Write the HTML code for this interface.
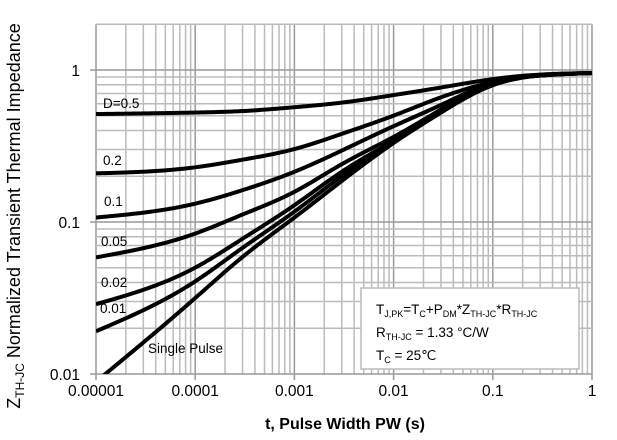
<!DOCTYPE html>
<html><head><meta charset="utf-8"><style>
body{margin:0;background:#fff;}
svg{display:block;font-family:"Liberation Sans",Arial,sans-serif;}
</style></head><body>
<svg id="chart" width="617" height="440" viewBox="0 0 617 440">
<g id="grid"></g>
<g id="curves"></g>
<g id="labels"></g>
<text transform="translate(20,216) rotate(-90)" text-anchor="middle" font-size="18">Z<tspan font-size="12" dy="4">TH-JC</tspan><tspan dy="-4"> Normalized Transient Thermal Impedance</tspan></text>
<text x="345" y="429" text-anchor="middle" font-size="16" font-weight="bold">t, Pulse Width PW (s)</text>
<g>
<rect x="361" y="288" width="218" height="81" fill="#fff" stroke="#bbb" stroke-width="1.5"/>
<text x="376" y="314" font-size="13.5">T<tspan font-size="9" dy="3">J,PK</tspan><tspan dy="-3">=T</tspan><tspan font-size="9" dy="3">C</tspan><tspan dy="-3">+P</tspan><tspan font-size="9" dy="3">DM</tspan><tspan dy="-3">*Z</tspan><tspan font-size="9" dy="3">TH-JC</tspan><tspan dy="-3">*R</tspan><tspan font-size="9" dy="3">TH-JC</tspan></text>
<text x="376" y="337" font-size="13.5">R<tspan font-size="9" dy="3">TH-JC</tspan><tspan dy="-3"> = 1.33 °C/W</tspan></text>
<text x="376" y="360" font-size="13.5">T<tspan font-size="9" dy="3">C</tspan><tspan dy="-3"> = 25℃</tspan></text>
</g>
</svg>
<script>
const times = [1e-5, 1e-4, 3e-4, 1e-3, 3e-3, 1e-2, 3e-2, 0.1, 0.3, 1];
const seriesNames = ["D=0.5", "0.2", "0.1", "0.05", "0.02", "0.01", "Single Pulse"];
const d05 = [0.513, 0.525, 0.537, 0.569, 0.610, 0.684, 0.767, 0.871, 0.933, 0.955];
const d02 = [0.209, 0.229, 0.257, 0.302, 0.380, 0.501, 0.661, 0.832, 0.925, 0.955];
const d01 = [0.107, 0.132, 0.162, 0.214, 0.295, 0.427, 0.589, 0.822, 0.92, 0.955];
const d005 = [0.0585, 0.0839, 0.112, 0.158, 0.240, 0.363, 0.550, 0.813, 0.92, 0.955];
const d002 = [0.0288, 0.0501, 0.0776, 0.129, 0.214, 0.343, 0.531, 0.804, 0.92, 0.955];
const d001 = [0.0191, 0.0407, 0.0676, 0.117, 0.200, 0.335, 0.525, 0.804, 0.92, 0.955];
const single = [0.0089, 0.0316, 0.0589, 0.107, 0.186, 0.331, 0.525, 0.794, 0.92, 0.955];
const xTicks = ["0.00001", "0.0001", "0.001", "0.01", "0.1", "1"];
const yTicks = ["0.01", "0.1", "1"];

const NS = "http://www.w3.org/2000/svg";
const X0 = 96, X1 = 592, Y1 = 70, Y01 = 374;
const xs = t => X0 + (Math.log10(t) + 5) / 5 * (X1 - X0);
const ys = v => Y01 - (Math.log10(v) + 2) / 2 * (Y01 - Y1);
const YTOP = ys(2);

function mk(tag, attrs, parent) {
  const e = document.createElementNS(NS, tag);
  for (const k in attrs) e.setAttribute(k, attrs[k]);
  parent.appendChild(e);
  return e;
}
const grid = document.getElementById("grid");
for (let d = -5; d < 0; d++) {
  for (let m = 1; m <= 9; m++) {
    const x = xs(m * Math.pow(10, d));
    const l = mk("line", {x1: x, x2: x, y1: YTOP, y2: m === 1 ? Y01 + 6 : Y01, stroke: m === 1 ? "#999" : "#bbb", "stroke-width": 1.5}, grid);
    
    
  }
}
const lr = mk("line", {x1: X1, x2: X1, y1: YTOP, y2: Y01 + 6, stroke: "#999", "stroke-width": 1.5}, grid);


for (let d = -2; d <= 0; d++) {
  for (let m = 1; m <= 9; m++) {
    const v = m * Math.pow(10, d);
    if (v > 2.0001) break;
    const y = ys(v);
    const l = mk("line", {x1: m === 1 ? X0 - 6 : X0, x2: X1, y1: y, y2: y, stroke: m === 1 ? "#999" : "#bbb", "stroke-width": 1.5}, grid);
    
    
  }
}
const labels = document.getElementById("labels");
xTicks.forEach(s => {
  const t = mk("text", {x: xs(parseFloat(s)), y: 396, "text-anchor": "middle", "font-size": 15.5}, labels);
  t.textContent = s;
  
  
});
yTicks.forEach(s => {
  const t = mk("text", {x: 80, y: ys(parseFloat(s)) + 6, "text-anchor": "end", "font-size": 15.5}, labels);
  t.textContent = s;
  
  
});
const curves = document.getElementById("curves");
const allSeries = [d05, d02, d01, d005, d002, d001, single];
function pathFor(vals) {
  const X = times.map(xs), Y = vals.map(ys), n = X.length;
  const h = [];
  for (let i = 0; i < n - 1; i++) h.push(X[i + 1] - X[i]);
  const M = new Array(n).fill(0);
  const sub = [], diag = [], sup = [], rhs = [];
  for (let i = 1; i < n - 1; i++) {
    sub.push(h[i - 1]); diag.push(2 * (h[i - 1] + h[i])); sup.push(h[i]);
    rhs.push(6 * ((Y[i + 1] - Y[i]) / h[i] - (Y[i] - Y[i - 1]) / h[i - 1]));
  }
  const k = diag.length;
  for (let i = 1; i < k; i++) {
    const w = sub[i] / diag[i - 1];
    diag[i] -= w * sup[i - 1]; rhs[i] -= w * rhs[i - 1];
  }
  const sol = new Array(k);
  sol[k - 1] = rhs[k - 1] / diag[k - 1];
  for (let i = k - 2; i >= 0; i--) sol[i] = (rhs[i] - sup[i] * sol[i + 1]) / diag[i];
  for (let i = 0; i < k; i++) M[i + 1] = sol[i];
  let d = "";
  for (let i = 0; i < n - 1; i++) {
    const steps = Math.max(2, Math.ceil(h[i] / 2));
    for (let s = (i === 0 ? 0 : 1); s <= steps; s++) {
      const x = X[i] + h[i] * s / steps;
      const A = (X[i + 1] - x) / h[i], B = (x - X[i]) / h[i];
      const y = A * Y[i] + B * Y[i + 1] + ((A * A * A - A) * M[i] + (B * B * B - B) * M[i + 1]) * h[i] * h[i] / 6;
      d += (d ? "L" : "M") + x.toFixed(2) + "," + y.toFixed(2);
    }
  }
  return d;
}
const clip = mk("clipPath", {id: "pc"}, mk("defs", {}, curves));
mk("rect", {x: X0, y: YTOP, width: X1 - X0 + 3, height: Y01 - YTOP}, clip);
allSeries.forEach((vals, i) => {
  const p = mk("path", {d: pathFor(vals), fill: "none", stroke: "#000", "stroke-width": 4, "stroke-linejoin": "round", "clip-path": "url(#pc)"}, curves);
  
  
});
const lblPos = [[103, 108], [103, 165], [104, 206], [101, 246], [101, 287], [100, 313], [148, 353]];
seriesNames.forEach((s, i) => {
  const t = mk("text", {x: lblPos[i][0], y: lblPos[i][1], "font-size": 13.5}, labels);
  t.textContent = s;
  
  
});
</script>
</body></html>
